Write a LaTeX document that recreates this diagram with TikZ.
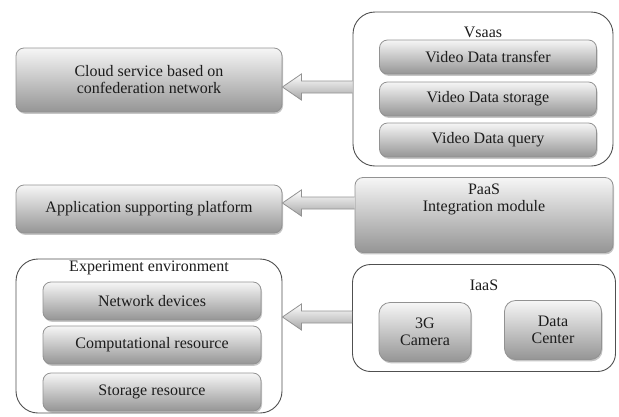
\documentclass[tikz,border=0pt]{standalone}
\usepackage{fontspec}
\setmainfont{Liberation Serif}
\usetikzlibrary{calc, shadows}
\definecolor{boxtop}{HTML}{F6F6F6}
\definecolor{boxbot}{HTML}{959595}
\definecolor{boxedge}{HTML}{929292}
\definecolor{frameedge}{HTML}{505050}
\definecolor{inktext}{HTML}{1C1C1C}

\begin{document}
\begin{tikzpicture}[x=1pt, y=-1pt,
    every node/.style={font=\fontsize{16}{17}\selectfont, text=inktext, inner sep=0pt},
    gbox/.style={draw=boxedge, line width=0.8pt, rounded corners=8pt, top color=boxtop, bottom color=boxbot,
        drop shadow={shadow xshift=1pt, shadow yshift=-1.8pt, opacity=0.45}, align=center},
    outerbox/.style={draw=frameedge, line width=0.9pt, rounded corners=22pt},
    arrowfill/.style={draw=boxedge, line width=0.8pt, top color=white, bottom color=boxbot!85, line join=miter}]
    \useasboundingbox (0,0) rectangle (619,416);

    % left column
    \node[gbox, minimum width=266pt, minimum height=64pt] (cloud) at (149,80) {Cloud service based on\\confederation network};
    \node[gbox, minimum width=266pt, minimum height=48pt] (app) at (149,209) {Application supporting platform};
    \node[outerbox, minimum width=266pt, minimum height=154pt] (expt) at (149,336) {};
    \node (expttitle) at (149,268) {Experiment environment};
    \foreach \name/\txt/\yy in {netdev/Network devices/301, compres/Computational resource/345, storres/Storage resource/392}
        \node[gbox, minimum width=218pt, minimum height=38pt] (\name) at (152,\yy) {\txt};

    % right column
    \node[outerbox, minimum width=260pt, minimum height=154pt] (vsaas) at (483,89) {};
    \node (vsaastitle) at (483,32) {Vsaas};
    \foreach \name/\txt/\yy in {vtransfer/Video Data transfer/57, vstorage/Video Data storage/99, vquery/Video Data query/140}
        \node[gbox, minimum width=217pt, minimum height=34pt] (\name) at (488,\yy) {\txt};

    \node[gbox, minimum width=258pt, minimum height=75pt] (paas) at (484,215) {};
    \node[align=center] (paastext) at (484,199) {PaaS\\Integration module};

    \node[outerbox, rounded corners=18pt, minimum width=263pt, minimum height=107pt] (iaas) at (484,318) {};
    \node (iaastitle) at (484,285) {IaaS};
    \node[gbox, rounded corners=11pt, minimum width=92pt, minimum height=59pt] (camera) at (425,332) {3G\\Camera};
    \node[gbox, rounded corners=11pt, minimum width=97pt, minimum height=59pt] (datacenter) at (553,330) {Data\\Center};

    % block arrows
    \foreach \src/\dst/\yy in {vsaas/cloud/87, paas/app/203, iaas/expt/317} {
        \coordinate (tip) at (\dst.east |- 0,\yy);
        \coordinate (tail) at (\src.west |- 0,\yy);
        \shade[arrowfill] ($(tail)+(0,-6)$) -- ($(tip)+(19,-6)$) -- ($(tip)+(19,-13)$) -- (tip)
            -- ($(tip)+(19,13)$) -- ($(tip)+(19,6)$) -- ($(tail)+(0,6)$);
    }
\end{tikzpicture}
\end{document}
